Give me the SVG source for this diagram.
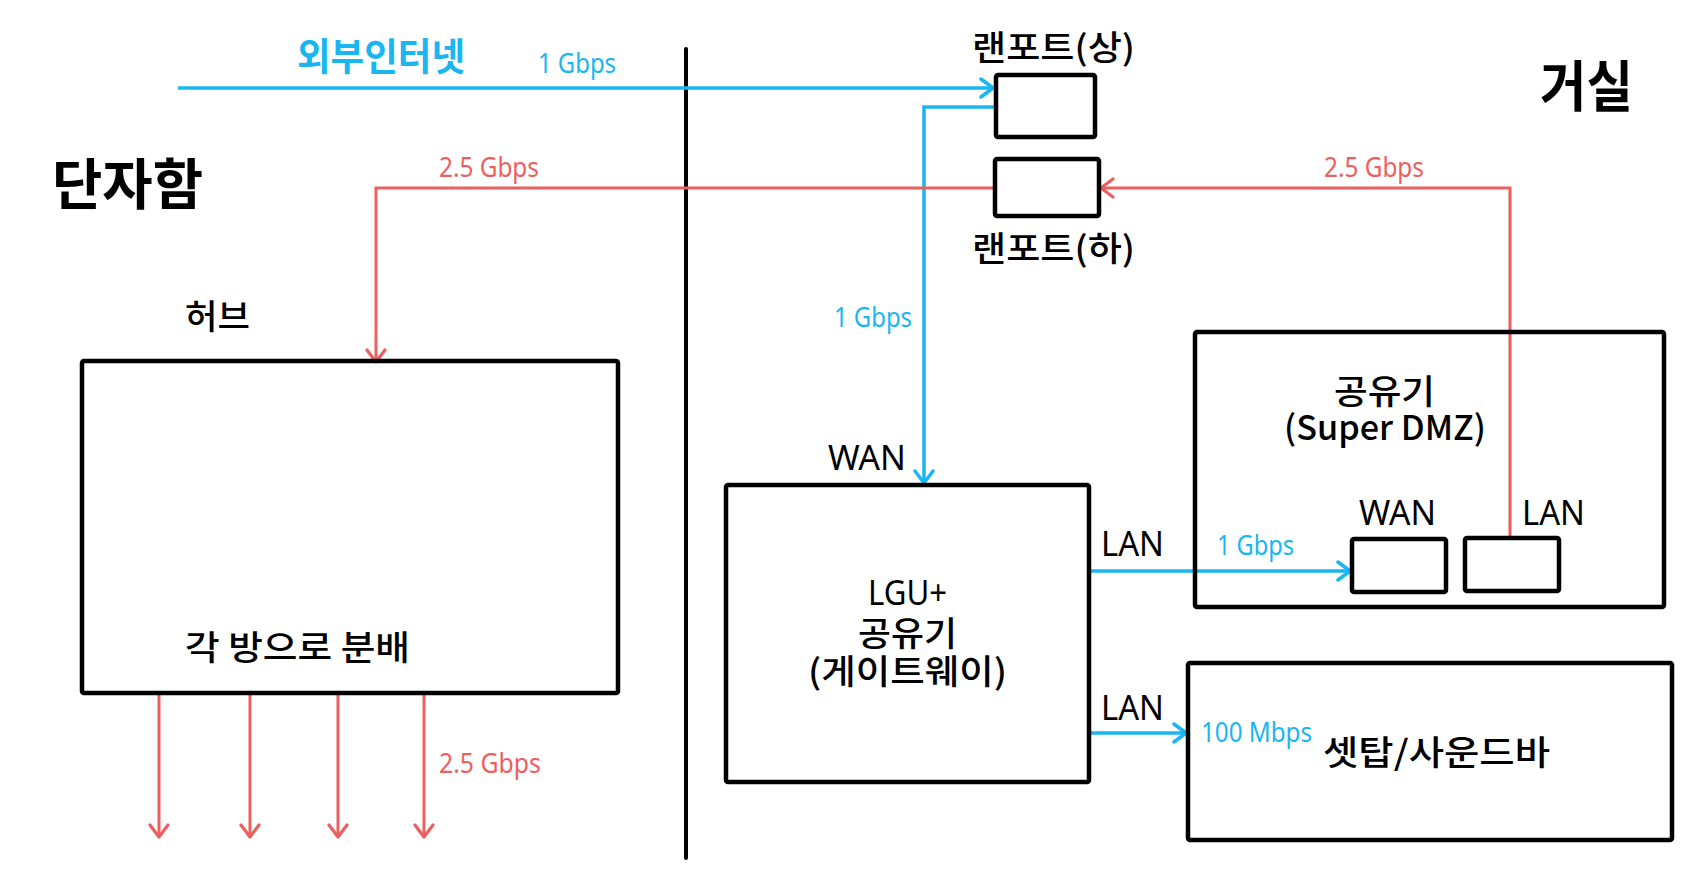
<svg xmlns="http://www.w3.org/2000/svg" width="1704" height="886" viewBox="0 0 1704 886">
<style>
.box{fill:none;stroke:#000;stroke-width:4.5;stroke-linejoin:round}
.blue{fill:none;stroke:#1ab6f0;stroke-width:3.5}
.red{fill:none;stroke:#ec5f5f;stroke-width:3}
.divider{fill:none;stroke:#000;stroke-width:4;stroke-linecap:round}
text{font-family:"Noto Sans CJK KR","Noto Sans",sans-serif}
.ko{font-size:34px;fill:#000;font-weight:500}
.lat{font-family:"Noto Sans","Noto Sans CJK KR",sans-serif;font-size:35px;fill:#000}
.big{font-size:55px;font-weight:700;fill:#000}
.sb{font-family:"Noto Sans","Noto Sans CJK KR",sans-serif;font-size:27px;fill:#1ab6f0}
.sr{font-family:"Noto Sans","Noto Sans CJK KR",sans-serif;font-size:27px;fill:#ec5f5f}
</style>
<defs>
<marker id="ab" viewBox="-15 -11 17 22" refX="0" refY="0" markerWidth="17" markerHeight="22" orient="auto" markerUnits="userSpaceOnUse">
<path d="M-12,-9 L0,0 L-12,9" fill="none" stroke="#1ab6f0" stroke-width="3.5" stroke-linecap="round" stroke-linejoin="round"/>
</marker>
<marker id="ar" viewBox="-15 -11 17 22" refX="0" refY="0" markerWidth="17" markerHeight="22" orient="auto" markerUnits="userSpaceOnUse">
<path d="M-12,-9 L0,0 L-12,9" fill="none" stroke="#ec5f5f" stroke-width="3.2" stroke-linecap="round" stroke-linejoin="round"/>
</marker>
</defs>
<rect width="1704" height="886" fill="#fff"/>

<g id="divider"><path class="divider" d="M686,49 V858"/></g>

<g id="labels">
<text x="297" y="70" font-size="38" font-weight="700" fill="#1ab6f0" textLength="168" lengthAdjust="spacingAndGlyphs">외부인터넷</text>
<text class="big" x="52" y="204" textLength="151" lengthAdjust="spacingAndGlyphs">단자함</text>
<text class="big" x="1540" y="106" font-size="57" textLength="93" lengthAdjust="spacingAndGlyphs">거실</text>
</g>

<g id="connectors">
<path class="blue" d="M178,88 H993" marker-end="url(#ab)"/>
<path class="blue" d="M996,107 H924 V483" marker-end="url(#ab)"/>
<path class="red" d="M995,188 H376 V362" marker-end="url(#ar)"/>
<path class="red" d="M1510,538 V188 H1101" marker-end="url(#ar)"/>
<path class="blue" d="M1089,571 H1350" marker-end="url(#ab)"/>
<path class="blue" d="M1089,733 H1186" marker-end="url(#ab)"/>
<path class="red" d="M159,695 V837" marker-end="url(#ar)"/>
<path class="red" d="M250,695 V837" marker-end="url(#ar)"/>
<path class="red" d="M338,695 V837" marker-end="url(#ar)"/>
<path class="red" d="M424,695 V837" marker-end="url(#ar)"/>
<text class="sb" x="538" y="73" textLength="78" lengthAdjust="spacingAndGlyphs">1 Gbps</text>
<text class="sr" x="439" y="177" textLength="100" lengthAdjust="spacingAndGlyphs">2.5 Gbps</text>
<text class="sr" x="1324" y="177" textLength="100" lengthAdjust="spacingAndGlyphs">2.5 Gbps</text>
<text class="sb" x="834" y="327" textLength="78" lengthAdjust="spacingAndGlyphs">1 Gbps</text>
<text class="sb" x="1217" y="555" textLength="77" lengthAdjust="spacingAndGlyphs">1 Gbps</text>
<text class="sb" x="1201" y="742" textLength="111" lengthAdjust="spacingAndGlyphs">100 Mbps</text>
<text class="sr" x="439" y="773" textLength="102" lengthAdjust="spacingAndGlyphs">2.5 Gbps</text>
<text class="lat" x="828" y="470" textLength="78" lengthAdjust="spacingAndGlyphs">WAN</text>
<text class="lat" x="1101" y="556" textLength="63" lengthAdjust="spacingAndGlyphs">LAN</text>
<text class="lat" x="1101" y="720" textLength="63" lengthAdjust="spacingAndGlyphs">LAN</text>
</g>

<g id="lanport-top">
<rect class="box" x="996" y="75" width="99" height="62" rx="2"/>
<text class="ko" x="972" y="60" textLength="163" lengthAdjust="spacingAndGlyphs">랜포트(상)</text>
</g>

<g id="lanport-bottom">
<rect class="box" x="995" y="159" width="104" height="57" rx="2"/>
<text class="ko" x="972" y="261" textLength="163" lengthAdjust="spacingAndGlyphs">랜포트(하)</text>
</g>

<g id="hub">
<text class="ko" x="185" y="329" font-size="37" textLength="65" lengthAdjust="spacingAndGlyphs">허브</text>
<rect class="box" x="82" y="361" width="536" height="332" rx="2"/>
<text class="ko" x="185" y="660" textLength="225" lengthAdjust="spacingAndGlyphs">각 방으로 분배</text>
</g>

<g id="lgu-router">
<rect class="box" x="726" y="485" width="363" height="297" rx="2"/>
<text class="lat" x="868" y="605" font-size="31" textLength="79" lengthAdjust="spacingAndGlyphs">LGU+</text>
<text class="ko" x="858" y="646" font-size="36" textLength="99" lengthAdjust="spacingAndGlyphs">공유기</text>
<text class="ko" x="808" y="684" textLength="199" lengthAdjust="spacingAndGlyphs">(게이트웨이)</text>
</g>

<g id="dmz-router">
<rect class="box" x="1195" y="332" width="469" height="275" rx="2"/>
<text class="ko" x="1334" y="404" font-size="36" textLength="101" lengthAdjust="spacingAndGlyphs">공유기</text>
<text class="ko" x="1284" y="440" textLength="202" lengthAdjust="spacingAndGlyphs">(Super DMZ)</text>
<text class="lat" x="1359" y="525" textLength="77" lengthAdjust="spacingAndGlyphs">WAN</text>
<text class="lat" x="1522" y="525" textLength="63" lengthAdjust="spacingAndGlyphs">LAN</text>
<rect id="dmz-wan" class="box" x="1352" y="539" width="94" height="53" rx="2"/>
<rect id="dmz-lan" class="box" x="1465" y="538" width="94" height="53" rx="2"/>
</g>

<g id="settop">
<rect class="box" x="1188" y="663" width="484" height="177" rx="2"/>
<text class="ko" x="1323" y="765" font-size="37" textLength="227" lengthAdjust="spacingAndGlyphs">셋탑/사운드바</text>
</g>
</svg>
